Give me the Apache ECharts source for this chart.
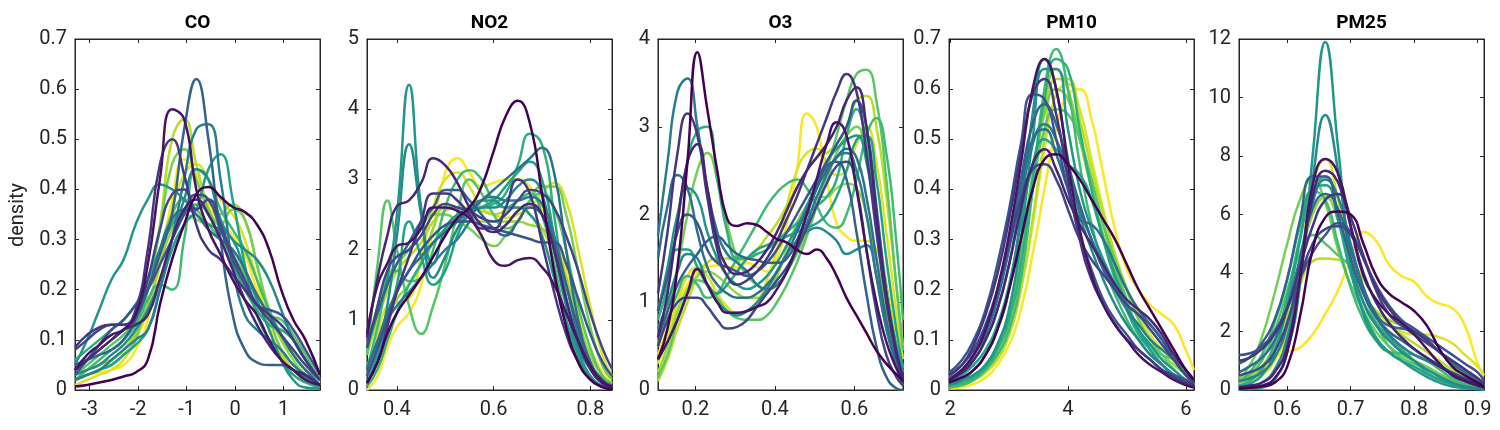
<!DOCTYPE html>
<html><head><meta charset="utf-8">
<script src="https://cdn.jsdelivr.net/npm/echarts@6/dist/echarts.min.js"></script>
<style>html,body{margin:0;padding:0;background:#fff}#c{width:1500px;height:430px}</style>
</head><body><div id="c"></div>
<script>
const PANEL_TITLES = ['CO', 'NO2', 'O3', 'PM10', 'PM25'];
const Y_NAME = 'density';

// x tick labels per panel
const CO_TICKS = [-3, -2, -1, 0, 1];
const NO2_TICKS = [0.4, 0.6, 0.8];
const O3_TICKS = [0.2, 0.4, 0.6];
const PM10_TICKS = [2, 4, 6];
const PM25_TICKS = [0.6, 0.7, 0.8, 0.9];

// ---------- CO ----------
const CO_X = [-3.3,-3.05,-2.8,-2.55,-2.3,-2.05,-1.8,-1.55,-1.3,-1.05,-0.8,-0.55,-0.3,-0.05,0.2,0.45,0.7,0.95,1.2,1.45,1.75];
const CO_Y = [
[0.007,0.01,0.015,0.02,0.027,0.035,0.06,0.17,0.26,0.33,0.39,0.405,0.385,0.365,0.355,0.33,0.28,0.2,0.14,0.1,0.03],
[0.04,0.07,0.09,0.11,0.12,0.15,0.25,0.42,0.56,0.54,0.40,0.32,0.27,0.22,0.18,0.15,0.10,0.06,0.04,0.02,0.01],
[0.04,0.06,0.08,0.1,0.12,0.13,0.15,0.22,0.3,0.36,0.38,0.35,0.3,0.24,0.18,0.13,0.09,0.06,0.04,0.03,0.01],
[0.085,0.11,0.125,0.13,0.13,0.16,0.28,0.45,0.50,0.43,0.33,0.28,0.26,0.23,0.2,0.17,0.15,0.13,0.1,0.06,0.02],
[0.08,0.1,0.12,0.13,0.13,0.15,0.22,0.32,0.39,0.40,0.36,0.38,0.33,0.27,0.22,0.17,0.14,0.11,0.08,0.05,0.02],
[0.03,0.06,0.09,0.12,0.14,0.17,0.2,0.25,0.3,0.35,0.39,0.38,0.32,0.26,0.21,0.17,0.16,0.15,0.12,0.08,0.03],
[0.05,0.06,0.07,0.08,0.1,0.14,0.2,0.27,0.35,0.52,0.62,0.5,0.3,0.15,0.08,0.055,0.05,0.05,0.04,0.025,0.01],
[0.04,0.06,0.08,0.1,0.12,0.15,0.2,0.28,0.34,0.36,0.35,0.32,0.3,0.28,0.24,0.19,0.15,0.11,0.07,0.04,0.01],
[0.02,0.03,0.04,0.06,0.08,0.1,0.12,0.2,0.3,0.42,0.52,0.53,0.42,0.25,0.15,0.12,0.1,0.08,0.05,0.03,0.01],
[0.03,0.04,0.05,0.07,0.09,0.12,0.16,0.22,0.3,0.38,0.44,0.42,0.34,0.3,0.28,0.26,0.22,0.16,0.1,0.06,0.02],
[0.05,0.1,0.16,0.22,0.26,0.33,0.38,0.41,0.40,0.38,0.35,0.33,0.32,0.3,0.24,0.18,0.12,0.06,0.02,0.005,0.003],
[0.02,0.03,0.04,0.05,0.07,0.09,0.12,0.2,0.28,0.33,0.36,0.44,0.47,0.38,0.25,0.15,0.1,0.06,0.03,0.015,0.005],
[0.06,0.08,0.1,0.12,0.14,0.17,0.22,0.28,0.33,0.36,0.37,0.35,0.3,0.25,0.2,0.16,0.13,0.12,0.1,0.06,0.02],
[0.02,0.04,0.06,0.08,0.1,0.13,0.18,0.21,0.2,0.3,0.44,0.42,0.36,0.32,0.28,0.22,0.16,0.11,0.07,0.04,0.02],
[0.03,0.05,0.07,0.09,0.11,0.14,0.2,0.28,0.35,0.38,0.36,0.33,0.3,0.27,0.23,0.19,0.15,0.14,0.11,0.07,0.02],
[0.02,0.03,0.04,0.05,0.07,0.1,0.2,0.32,0.45,0.48,0.42,0.36,0.33,0.36,0.34,0.25,0.15,0.08,0.05,0.03,0.01],
[0.03,0.04,0.05,0.06,0.08,0.11,0.17,0.25,0.32,0.35,0.34,0.33,0.35,0.37,0.34,0.25,0.16,0.1,0.06,0.03,0.01],
[0.02,0.03,0.04,0.06,0.08,0.12,0.2,0.33,0.5,0.54,0.45,0.36,0.3,0.27,0.22,0.15,0.1,0.07,0.04,0.02,0.01],
[0.01,0.02,0.03,0.04,0.06,0.1,0.16,0.26,0.36,0.43,0.45,0.42,0.38,0.35,0.3,0.22,0.13,0.07,0.04,0.02,0.01],
[0.02,0.03,0.035,0.04,0.05,0.08,0.14,0.25,0.38,0.46,0.43,0.37,0.33,0.31,0.27,0.2,0.15,0.1,0.07,0.04,0.015]
];

// ---------- NO2 ----------
const NO2_X = [0.338,0.36,0.38,0.40,0.425,0.45,0.475,0.50,0.525,0.55,0.575,0.60,0.625,0.65,0.675,0.70,0.725,0.75,0.775,0.80,0.825,0.845];
const NO2_Y = [
[0.1,0.4,0.8,1.1,1.35,1.6,1.9,2.2,2.45,2.6,2.9,3.4,3.9,4.12,3.8,2.8,1.7,0.9,0.4,0.15,0.04,0.01],
[0.8,1.5,1.8,2.05,2.1,2.3,2.6,2.6,2.55,2.45,2.2,1.85,1.77,1.85,1.88,1.75,1.5,1.1,0.7,0.35,0.12,0.05],
[0.75,1.6,2.2,2.62,2.7,2.95,3.3,3.2,2.95,2.6,2.35,2.25,2.35,2.55,2.65,2.5,2.0,1.3,0.7,0.3,0.1,0.05],
[0.1,0.4,0.9,1.4,1.9,2.4,2.8,2.8,2.7,2.5,2.3,2.3,2.6,3.0,2.8,2.1,1.4,0.8,0.4,0.15,0.05,0.02],
[0.6,1.2,1.7,1.9,2.0,2.2,2.5,2.65,2.6,2.55,2.45,2.4,2.5,2.7,2.85,2.8,2.6,2.2,1.7,1.1,0.6,0.3],
[0.2,0.6,1.0,1.4,1.7,2.0,2.2,2.35,2.4,2.4,2.35,2.3,2.25,2.2,2.15,2.1,2.1,1.8,1.3,0.8,0.4,0.2],
[0.7,1.1,1.5,1.8,2.1,2.4,2.6,2.85,2.85,2.7,2.5,2.3,2.2,2.4,2.6,2.5,2.1,1.5,0.9,0.4,0.15,0.06],
[0.3,0.7,1.1,1.4,1.7,1.9,2.1,2.25,2.4,2.55,2.7,2.85,3.0,3.15,3.3,3.45,3.1,2.0,1.0,0.4,0.12,0.04],
[0.3,0.7,1.0,1.2,1.4,1.6,1.8,2.0,2.15,2.4,2.7,2.75,2.7,2.7,2.75,2.65,2.2,1.5,0.8,0.35,0.1,0.04],
[0.2,0.6,1.2,2.2,3.5,2.5,1.6,1.9,2.3,2.5,2.6,2.6,2.7,2.9,3.0,2.8,2.0,1.2,0.6,0.3,0.1,0.04],
[0.6,1.1,1.6,2.5,4.35,2.6,1.8,2.3,2.5,2.6,2.7,2.7,2.6,2.6,2.5,2.2,1.6,1.0,0.5,0.2,0.05,0.02],
[0.1,0.5,1.0,1.5,2.4,1.9,1.5,1.7,2.2,2.5,2.6,2.7,2.9,3.1,3.25,3.0,2.2,1.3,0.6,0.2,0.06,0.02],
[0.05,0.3,0.7,1.1,1.5,1.8,2.1,2.3,2.45,2.55,2.6,2.65,2.8,3.2,3.65,3.5,2.5,1.3,0.5,0.15,0.05,0.02],
[0.3,0.9,1.5,1.7,1.55,1.6,2.0,2.6,3.0,3.13,3.0,2.7,2.6,2.7,2.8,2.5,1.8,1.0,0.4,0.15,0.05,0.02],
[0.5,1.8,2.7,2.0,1.2,0.8,1.2,1.8,2.5,3.0,2.8,2.5,2.3,2.4,2.7,2.8,2.6,2.0,1.2,0.6,0.2,0.1],
[0.5,1.2,1.6,1.8,2.0,2.3,2.5,2.5,2.4,2.3,2.15,2.05,2.2,2.4,2.7,2.9,2.9,2.5,1.7,0.9,0.35,0.15],
[0.2,0.6,1.0,1.3,1.5,1.8,2.3,2.6,2.6,2.5,2.4,2.4,2.4,2.4,2.35,2.3,2.1,1.6,1.0,0.5,0.2,0.08],
[0.5,1.0,1.4,1.7,1.9,2.1,2.4,2.55,2.6,2.6,2.55,2.5,2.55,2.6,2.5,2.3,1.9,1.3,0.7,0.3,0.1,0.04],
[0.3,0.8,1.2,1.25,1.3,1.9,2.6,3.0,3.1,2.9,2.6,2.5,2.45,2.5,2.6,2.8,2.95,2.7,2.0,1.2,0.5,0.2],
[0.0,0.2,0.6,0.9,1.1,1.5,2.3,3.1,3.3,3.1,2.9,2.95,3.0,3.0,2.9,2.6,2.2,1.7,1.1,0.6,0.25,0.1]
];

// ---------- O3 ----------
const O3_X = [0.106,0.13,0.155,0.18,0.205,0.23,0.255,0.28,0.305,0.33,0.355,0.38,0.405,0.43,0.455,0.48,0.505,0.53,0.555,0.58,0.605,0.63,0.655,0.68,0.705,0.722];
const O3_Y = [
[0.35,0.7,1.4,2.6,3.85,3.2,2.5,1.95,1.87,1.9,1.88,1.8,1.72,1.68,1.6,1.55,1.6,1.5,1.3,1.05,0.85,0.65,0.45,0.3,0.18,0.1],
[0.35,0.55,0.8,1.1,1.38,1.2,1.0,0.88,0.88,0.9,0.95,1.0,1.15,1.35,1.65,2.0,2.4,2.8,3.05,2.9,2.3,1.6,1.0,0.55,0.25,0.1],
[0.6,1.1,1.9,2.6,2.8,2.3,1.7,1.4,1.32,1.35,1.45,1.6,1.8,2.05,2.3,2.5,2.65,2.8,3.0,3.3,3.45,3.0,2.0,1.1,0.45,0.15],
[1.1,1.8,2.7,3.15,2.9,2.2,1.6,1.3,1.2,1.25,1.35,1.5,1.7,1.95,2.2,2.5,2.8,3.1,3.4,3.6,3.4,2.7,1.8,1.0,0.4,0.15],
[0.5,0.8,1.0,1.05,1.05,0.95,0.8,0.7,0.72,0.8,0.95,1.1,1.25,1.4,1.6,1.85,2.1,2.35,2.55,2.6,2.3,1.6,0.9,0.4,0.15,0.05],
[0.9,1.3,1.8,2.0,1.9,1.6,1.45,1.4,1.35,1.3,1.35,1.45,1.6,1.8,2.0,2.2,2.4,2.6,2.8,3.0,3.3,3.0,2.1,1.1,0.4,0.1],
[0.6,0.9,1.2,1.4,1.55,1.7,1.75,1.65,1.55,1.5,1.48,1.45,1.45,1.5,1.7,2.0,2.3,2.55,2.6,2.4,1.8,1.1,0.5,0.15,0.02,0.0],
[1.5,2.1,2.45,2.3,1.8,1.4,1.2,1.1,1.05,1.05,1.1,1.2,1.35,1.55,1.8,2.05,2.3,2.5,2.65,2.75,2.65,2.2,1.5,0.8,0.3,0.05],
[1.75,2.6,3.4,3.55,3.0,2.3,1.8,1.55,1.45,1.35,1.2,1.15,1.2,1.35,1.6,1.9,2.2,2.45,2.65,2.7,2.5,2.0,1.3,0.7,0.3,0.1],
[0.7,1.0,1.35,1.55,1.5,1.2,1.0,0.9,0.85,0.9,1.0,1.15,1.35,1.55,1.7,1.8,1.85,1.8,1.7,1.55,1.6,1.65,1.3,0.7,0.3,0.1],
[0.9,1.4,2.0,2.3,2.2,1.8,1.5,1.3,1.2,1.15,1.2,1.3,1.45,1.65,1.85,2.1,2.35,2.6,2.75,2.85,2.9,2.6,1.9,1.1,0.5,0.2],
[0.9,1.3,1.6,1.6,1.4,1.2,1.1,1.2,1.35,1.5,1.6,1.65,1.7,1.75,1.8,1.85,1.9,2.0,2.2,2.5,2.85,2.9,2.4,1.5,0.7,0.25],
[0.8,1.2,1.9,2.6,2.95,3.0,2.4,1.8,1.5,1.5,1.55,1.6,1.7,1.8,1.9,2.0,2.1,2.2,2.4,2.9,3.2,2.8,2.0,1.1,0.5,0.2],
[0.5,0.8,1.1,1.3,1.2,1.05,1.1,1.3,1.5,1.7,1.9,2.1,2.25,2.35,2.4,2.3,2.1,1.9,1.85,2.0,2.4,2.9,3.1,2.7,1.7,0.8],
[0.15,0.4,0.8,1.1,1.25,1.2,1.05,0.9,0.82,0.8,0.8,0.85,1.0,1.2,1.45,1.75,2.1,2.5,2.9,3.3,3.6,3.65,3.3,2.4,1.2,0.45],
[0.5,0.9,1.4,2.0,2.5,2.7,2.4,1.9,1.5,1.3,1.2,1.15,1.2,1.35,1.55,1.8,2.1,2.4,2.7,2.9,3.0,2.7,2.0,1.2,0.5,0.2],
[0.2,0.5,0.9,1.15,1.3,1.35,1.3,1.2,1.1,1.05,1.05,1.1,1.3,1.6,1.9,2.1,2.2,2.2,2.3,2.35,2.3,2.0,1.5,0.9,0.4,0.15],
[0.1,0.35,0.7,1.0,1.3,1.45,1.5,1.5,1.48,1.5,1.6,1.75,1.9,2.1,2.3,2.5,2.65,2.7,2.8,3.0,3.3,3.35,3.0,2.2,1.2,0.5],
[0.3,0.6,1.0,1.3,1.4,1.3,1.1,0.95,0.88,0.9,1.0,1.25,1.6,2.1,2.5,2.7,2.75,2.6,2.45,2.5,2.8,3.0,2.6,1.8,0.9,0.35],
[0.4,0.7,1.0,1.2,1.35,1.4,1.42,1.4,1.4,1.45,1.4,1.35,1.5,1.9,2.5,3.15,3.0,2.4,1.9,1.75,1.7,1.7,1.6,1.2,0.6,0.25]
];

// ---------- PM10 ----------
const PM10_X = [1.98,2.2,2.4,2.6,2.8,3.0,3.2,3.4,3.6,3.8,4.0,4.2,4.4,4.6,4.8,5.0,5.2,5.4,5.6,5.8,6.0,6.14];
const PM10_Y = [
[0.015,0.025,0.04,0.07,0.12,0.2,0.3,0.4,0.46,0.47,0.45,0.42,0.38,0.34,0.30,0.25,0.2,0.16,0.12,0.08,0.04,0.02],
[0.02,0.04,0.07,0.12,0.2,0.31,0.45,0.6,0.66,0.6,0.45,0.32,0.23,0.17,0.13,0.1,0.07,0.05,0.035,0.02,0.01,0.005],
[0.02,0.035,0.06,0.1,0.16,0.25,0.36,0.45,0.48,0.44,0.38,0.33,0.29,0.25,0.21,0.18,0.16,0.14,0.11,0.07,0.04,0.02],
[0.03,0.05,0.09,0.15,0.23,0.34,0.47,0.59,0.62,0.55,0.42,0.3,0.22,0.17,0.13,0.1,0.08,0.06,0.04,0.025,0.015,0.01],
[0.03,0.05,0.08,0.13,0.2,0.29,0.38,0.44,0.45,0.42,0.36,0.3,0.26,0.23,0.2,0.17,0.15,0.12,0.09,0.06,0.03,0.015],
[0.035,0.06,0.1,0.16,0.25,0.36,0.49,0.59,0.58,0.5,0.4,0.31,0.24,0.18,0.14,0.11,0.08,0.06,0.04,0.03,0.02,0.01],
[0.02,0.04,0.07,0.12,0.19,0.3,0.42,0.53,0.57,0.53,0.45,0.37,0.3,0.24,0.2,0.17,0.15,0.13,0.1,0.06,0.03,0.01],
[0.025,0.04,0.07,0.11,0.18,0.28,0.4,0.5,0.52,0.47,0.4,0.34,0.33,0.3,0.25,0.2,0.16,0.13,0.1,0.07,0.04,0.02],
[0.02,0.035,0.06,0.1,0.16,0.25,0.38,0.49,0.53,0.5,0.43,0.36,0.3,0.25,0.2,0.16,0.13,0.1,0.08,0.06,0.03,0.015],
[0.01,0.02,0.04,0.07,0.12,0.2,0.35,0.55,0.66,0.6,0.46,0.35,0.28,0.22,0.17,0.13,0.1,0.07,0.05,0.03,0.015,0.01],
[0.01,0.02,0.03,0.05,0.09,0.16,0.3,0.5,0.64,0.64,0.52,0.4,0.32,0.26,0.21,0.16,0.12,0.09,0.06,0.04,0.02,0.01],
[0.015,0.03,0.05,0.08,0.13,0.21,0.33,0.45,0.5,0.48,0.45,0.43,0.38,0.3,0.23,0.17,0.12,0.08,0.05,0.03,0.015,0.005],
[0.01,0.015,0.025,0.045,0.08,0.14,0.25,0.42,0.58,0.66,0.64,0.52,0.4,0.3,0.22,0.16,0.11,0.08,0.05,0.03,0.015,0.005],
[0.005,0.01,0.02,0.04,0.07,0.12,0.22,0.4,0.6,0.68,0.6,0.45,0.33,0.25,0.19,0.14,0.1,0.07,0.05,0.03,0.015,0.01],
[0.008,0.015,0.03,0.05,0.09,0.15,0.26,0.4,0.52,0.56,0.55,0.5,0.42,0.33,0.25,0.18,0.12,0.09,0.07,0.06,0.04,0.02],
[0.008,0.015,0.03,0.05,0.09,0.16,0.28,0.43,0.55,0.6,0.58,0.5,0.41,0.33,0.26,0.2,0.14,0.1,0.07,0.04,0.02,0.01],
[0.005,0.01,0.02,0.04,0.07,0.13,0.24,0.4,0.56,0.64,0.6,0.5,0.4,0.31,0.24,0.17,0.12,0.09,0.07,0.05,0.03,0.01],
[0.005,0.01,0.02,0.035,0.06,0.11,0.2,0.34,0.5,0.62,0.62,0.54,0.44,0.35,0.27,0.2,0.14,0.1,0.08,0.06,0.04,0.02],
[0.005,0.01,0.02,0.035,0.065,0.11,0.2,0.33,0.48,0.59,0.61,0.56,0.46,0.36,0.27,0.2,0.15,0.11,0.08,0.06,0.03,0.01],
[0.003,0.006,0.012,0.025,0.05,0.09,0.16,0.27,0.4,0.52,0.59,0.6,0.54,0.43,0.32,0.24,0.2,0.17,0.15,0.13,0.08,0.04]
];

// ---------- PM25 ----------
const PM25_X = [0.524,0.54,0.56,0.58,0.60,0.62,0.64,0.66,0.68,0.70,0.72,0.74,0.76,0.78,0.80,0.82,0.84,0.86,0.88,0.90,0.91];
const PM25_Y = [
[0.05,0.08,0.12,0.25,0.8,2.5,4.8,5.9,6.1,6.0,5.0,3.9,3.3,3.0,2.7,2.2,1.4,0.8,0.5,0.25,0.1],
[0.05,0.08,0.15,0.4,1.3,3.8,7.0,7.9,7.4,5.6,3.9,3.1,2.6,2.3,1.9,1.4,0.9,0.5,0.3,0.15,0.08],
[0.1,0.15,0.25,0.6,1.5,3.8,6.6,7.5,7.1,5.6,4.0,3.0,2.3,1.8,1.4,1.1,0.8,0.55,0.35,0.2,0.1],
[1.0,1.1,1.4,1.9,2.8,4.2,5.6,6.5,6.7,5.9,4.6,3.5,2.8,2.3,2.0,1.7,1.3,1.0,0.7,0.4,0.2],
[0.5,0.6,0.8,1.3,2.3,3.8,5.0,5.5,5.6,5.3,4.5,3.4,2.6,2.2,1.9,1.6,1.3,1.0,0.7,0.4,0.2],
[1.2,1.25,1.5,2.0,2.8,3.8,4.7,5.3,5.7,5.4,4.5,3.6,2.9,2.4,2.1,1.8,1.5,1.2,0.9,0.6,0.3],
[0.9,1.1,1.6,2.4,3.8,5.8,7.3,7.3,6.0,4.5,3.3,2.5,2.0,1.7,1.4,1.1,0.85,0.6,0.4,0.2,0.1],
[0.6,0.8,1.1,1.7,2.8,4.5,6.2,6.7,6.2,4.8,3.5,2.6,2.2,2.1,2.0,1.7,1.3,0.9,0.6,0.35,0.15],
[0.3,0.4,0.6,1.1,2.2,4.2,6.4,7.2,6.6,5.0,3.5,2.5,1.9,1.5,1.2,1.0,0.8,0.55,0.35,0.2,0.1],
[0.05,0.1,0.25,0.7,1.8,4.0,7.2,9.4,7.5,4.5,3.0,2.2,1.7,1.3,1.0,0.7,0.45,0.25,0.12,0.06,0.03],
[0.02,0.03,0.08,0.35,1.3,3.6,8.0,11.9,8.3,4.3,2.6,1.7,1.3,1.0,0.7,0.45,0.25,0.12,0.06,0.03,0.02],
[0.1,0.2,0.5,1.3,2.9,5.1,6.9,7.0,5.8,4.0,2.7,1.8,1.3,1.0,0.8,0.55,0.35,0.2,0.1,0.05,0.02],
[0.15,0.3,0.7,1.6,3.2,5.2,6.8,7.3,6.0,4.2,3.0,2.3,1.8,1.4,1.0,0.6,0.35,0.2,0.1,0.05,0.02],
[0.3,0.6,1.2,2.3,3.8,5.6,6.8,6.5,5.0,3.5,2.4,1.7,1.3,1.25,1.2,1.0,0.7,0.4,0.2,0.1,0.05],
[0.3,0.5,1.0,2.0,3.4,4.7,5.3,5.0,4.6,4.2,3.3,2.3,1.5,1.1,0.9,0.7,0.5,0.3,0.15,0.08,0.04],
[0.4,0.8,1.8,3.3,5.0,6.5,7.2,6.4,4.8,3.6,2.7,2.0,1.5,1.2,1.0,0.8,0.55,0.35,0.2,0.1,0.05],
[0.2,0.4,0.8,1.5,2.7,4.4,6.0,6.6,5.8,4.4,3.3,2.7,2.4,2.2,2.0,1.7,1.3,0.9,0.55,0.3,0.15],
[0.3,0.5,0.8,1.5,2.5,3.6,4.4,4.5,4.45,4.35,3.8,3.0,2.3,1.9,1.6,1.3,1.0,0.7,0.45,0.25,0.12],
[0.2,0.3,0.5,1.0,2.0,4.2,7.0,7.9,6.5,4.5,3.3,2.7,2.3,2.0,1.9,1.9,1.8,1.6,1.2,0.8,0.5],
[0.2,0.4,0.7,1.1,1.3,1.45,1.9,2.6,3.4,4.5,5.4,5.1,4.3,3.9,3.7,3.2,2.95,2.8,2.2,0.9,0.5]
];

// ---------- styling / layout ----------
const VIRIDIS = ['#440154','#482475','#414487','#355f8d','#2a788e','#21918c','#22a884','#44bf70','#7ad151','#bddf26','#fde725'];
function hex2rgb(h){return [parseInt(h.slice(1,3),16),parseInt(h.slice(3,5),16),parseInt(h.slice(5,7),16)];}
function viridis(t){
  const n = VIRIDIS.length - 1, p = Math.min(Math.max(t,0),1) * n, i = Math.min(Math.floor(p), n-1), f = p - i;
  const a = hex2rgb(VIRIDIS[i]), b = hex2rgb(VIRIDIS[i+1]);
  return 'rgb(' + a.map((v,k)=>Math.round(v + (b[k]-v)*f)).join(',') + ')';
}

const panels = [
  {x: CO_X, ys: CO_Y, xmin: -3.3, xmax: 1.75, xt: CO_TICKS, ymax: 0.7, yi: 0.1},
  {x: NO2_X, ys: NO2_Y, xmin: 0.338, xmax: 0.845, xt: NO2_TICKS, ymax: 5, yi: 1},
  {x: O3_X, ys: O3_Y, xmin: 0.106, xmax: 0.722, xt: O3_TICKS, ymax: 4, yi: 1},
  {x: PM10_X, ys: PM10_Y, xmin: 1.98, xmax: 6.14, xt: PM10_TICKS, ymax: 0.7, yi: 0.1},
  {x: PM25_X, ys: PM25_Y, xmin: 0.524, xmax: 0.910, xt: PM25_TICKS, ymax: 12, yi: 2}
];
const LEFTS = [75, 367, 658, 949, 1239];
const GW = 245, GT = 39, GH = 351;
const AX = '#262626';
const FONT = 'Roboto, "Liberation Sans", sans-serif';

const grid = [], xAxis = [], yAxis = [], series = [], graphic = [];
panels.forEach((p, i) => {
  grid.push({left: LEFTS[i], top: GT, width: GW, height: GH, show: true, borderColor: AX, borderWidth: 1, backgroundColor: '#fff', containLabel: false});
  const xbase = {gridIndex: i, type: 'value', min: p.xmin, max: p.xmax, splitLine: {show: false},
    axisLine: {show: true, onZero: false, lineStyle: {color: AX, width: 1}},
    axisTick: {show: true, inside: true, length: 4, customValues: p.xt, lineStyle: {color: AX, width: 1}}};
  xAxis.push(Object.assign({}, xbase, {position: 'bottom',
    axisLabel: {show: true, customValues: p.xt, color: AX, fontSize: 20, fontFamily: FONT, margin: 10}}));
  xAxis.push(Object.assign({}, xbase, {position: 'top', axisLabel: {show: false, customValues: p.xt}}));
  const ybase = {gridIndex: i, type: 'value', min: 0, max: p.ymax, interval: p.yi, splitLine: {show: false},
    axisLine: {show: true, onZero: false, lineStyle: {color: AX, width: 1}},
    axisTick: {show: true, inside: true, length: 4, lineStyle: {color: AX, width: 1}}};
  yAxis.push(Object.assign({}, ybase, {position: 'left',
    axisLabel: {show: true, color: AX, fontSize: 20, fontFamily: FONT, margin: 8}}));
  yAxis.push(Object.assign({}, ybase, {position: 'right', axisLabel: {show: false}}));
  const n = p.ys.length;
  for (let k = n - 1; k >= 0; k--) {
    series.push({type: 'line', xAxisIndex: 2*i, yAxisIndex: 2*i, smooth: 0.5,
      showSymbol: false, symbol: 'none', clip: true, silent: true,
      lineStyle: {width: 2.5, color: viridis(k / (n - 1))},
      data: p.x.map((xv, j) => [xv, p.ys[k][j]])});
  }
  graphic.push({type: 'text', x: LEFTS[i] + GW / 2, y: 23,
    style: {text: PANEL_TITLES[i], fill: '#000', font: 'bold 19px ' + FONT, textAlign: 'center', textVerticalAlign: 'middle', align: 'center', verticalAlign: 'middle'}});
});
graphic.push({type: 'text', x: 18, y: 215, rotation: Math.PI / 2,
  style: {text: Y_NAME, fill: AX, font: '20px ' + FONT, textAlign: 'center', textVerticalAlign: 'middle', align: 'center', verticalAlign: 'middle'}});

const chart = echarts.init(document.getElementById('c'), null, {renderer: 'canvas'});
chart.setOption({animation: false, backgroundColor: '#fff', grid, xAxis, yAxis, series, graphic});
</script>
</body></html>
